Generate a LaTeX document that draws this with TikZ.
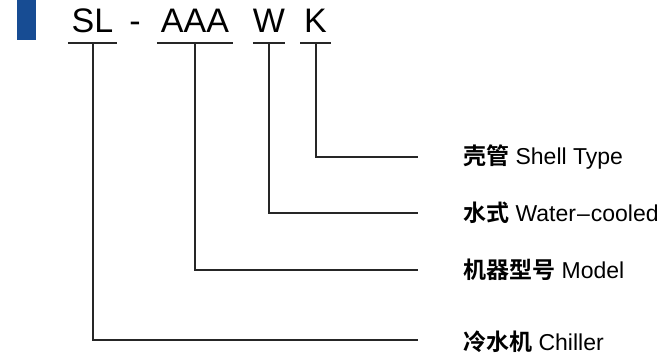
\documentclass[tikz,border=0pt]{standalone}
\usepackage{fontspec}
\setmainfont{Liberation Sans}
\newfontfamily\cjk{Noto Sans CJK SC Bold}
\usetikzlibrary{positioning}
\definecolor{barblue}{HTML}{174C93}

\begin{document}
\begin{tikzpicture}[
    x=1pt, y=-1pt,
    code/.style={anchor=base, inner sep=0pt, text depth=11pt, font=\fontsize{34}{34}\selectfont},
    desc/.style={anchor=west, inner sep=0pt, font=\fontsize{23}{26}\selectfont},
    wire/.style={line width=2pt, draw=black!85}
]
\useasboundingbox (0,0) rectangle (671,359);
\fill[barblue] (17,0) rectangle (36,40);

% model code
\node[code, minimum width=49pt] (sl) at (92.5,32) {SL};
\node[code] (dash) at (135,32) {-};
\node[code, minimum width=76pt] (aaa) at (195,32) {AAA};
\node[code, minimum width=26pt] (w) at (269,32) {W};
\node[code, minimum width=30pt] (k) at (315.5,32) {K};

\foreach \n in {sl, aaa, w, k}
    \draw[wire] (\n.south west) -- (\n.south east);

% meanings
\node[desc] (shell) at (463,157) {{\cjk 壳管} Shell Type};
\node[desc] (water) at (463,213) {{\cjk 水式} Water\kern1pt--\kern1pt cooled};
\node[desc] (model) at (463,270) {{\cjk 机器型号} Model};
\node[desc] (chiller) at (463,342) {{\cjk 冷水机} Chiller};

\coordinate (shellEnd) at (418,157);
\coordinate (waterEnd) at (418,213);
\coordinate (modelEnd) at (418,270);
\coordinate (chillerEnd) at (418,340);

\draw[wire] (k.south) |- (shellEnd);
\draw[wire] (w.south) |- (waterEnd);
\draw[wire] (aaa.south) |- (modelEnd);
\draw[wire] (sl.south) |- (chillerEnd);
\end{tikzpicture}
\end{document}
